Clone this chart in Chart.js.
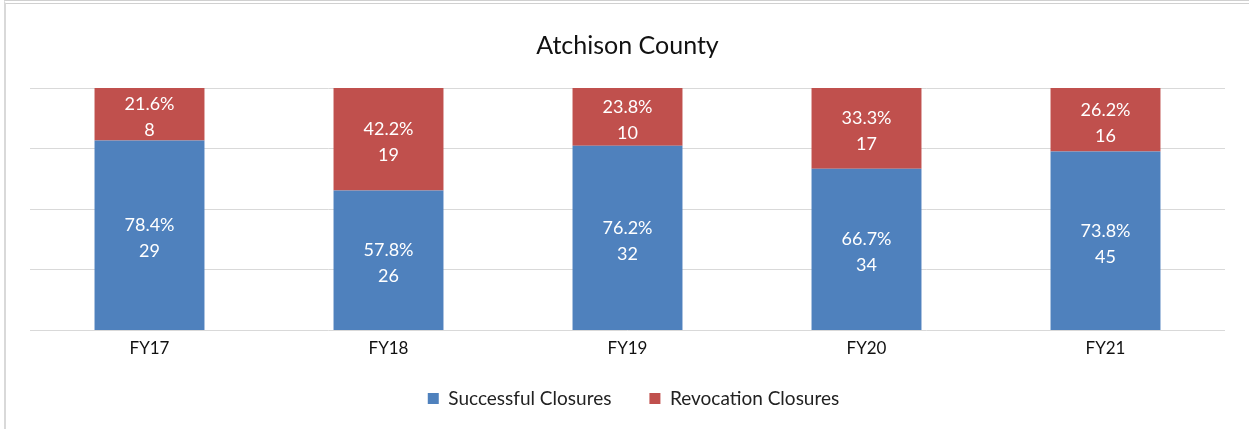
<!DOCTYPE html>
<html>
<head>
<meta charset="utf-8">
<script src="https://cdn.jsdelivr.net/npm/chart.js@4/dist/chart.umd.min.js"></script>
<style>
  html, body { margin: 0; padding: 0; background: #fff; }
  #wrap { position: relative; width: 1249px; height: 429px; }
  #frame { position: absolute; left: 4px; top: 0; width: 1245px; height: 429px;
           border-top: 4px double #d0d0d0; border-left: 2px solid #d9d9d9; box-sizing: border-box; }
  canvas { position: absolute; left: 0; top: 0; }
</style>
</head>
<body>
<div id="wrap">
  <div id="frame"></div>
  <canvas id="chart" width="1249" height="429"></canvas>
</div>
<script>
var years = ['FY17', 'FY18', 'FY19', 'FY20', 'FY21'];
// counts shown under the percentages
var successCount = [29, 26, 32, 34, 45];
var revokeCount = [8, 19, 10, 17, 16];
// share of closures, in percent
var successPct = [78.4, 57.8, 76.2, 66.7, 73.8];
var revokePct = [21.6, 42.2, 23.8, 33.3, 26.2];

var FONT = 'Lato, "Open Sans", sans-serif';

// write "xx.x%" and the count inside each bar piece
var barLabels = {
	id: 'barLabels',
	afterDatasetsDraw: function(chart) {
		var c = chart.ctx;
		c.save();
		c.fillStyle = '#ffffff';
		c.font = '18px ' + FONT;
		c.textAlign = 'center';
		c.textBaseline = 'middle';
		chart.data.datasets.forEach(function(ds, i) {
			var meta = chart.getDatasetMeta(i);
			meta.data.forEach(function(bar, j) {
				var mid = (bar.y + bar.base) / 2 + 3;
				c.fillText(ds.data[j].toFixed(1) + '%', bar.x, mid - 13);
				c.fillText(String(ds.counts[j]), bar.x, mid + 13);
			});
		});
		c.restore();
	}
};

// legend padding is big for the gap between items, pull it back up
var legendShift = {
	id: 'legendShift',
	afterLayout: function(chart) {
		var lg = chart.legend;
		lg.top -= 16;
		lg.bottom -= 16;
		lg.left += 6;
		lg.right += 6;
	}
};

var ctx = document.getElementById('chart').getContext('2d');
var chart = new Chart(ctx, {
	type: 'bar',
	data: {
		labels: years,
		datasets: [{
			label: 'Successful Closures',
			data: successPct,
			counts: successCount,
			backgroundColor: '#4f81bd',
		}, {
			label: 'Revocation Closures',
			data: revokePct,
			counts: revokeCount,
			backgroundColor: '#c0504d',
		}]
	},
	options: {
		responsive: false,
		animation: false,
		layout: { padding: { left: 30, right: 24, top: 18, bottom: -5 } },
		datasets: { bar: { categoryPercentage: 1, barPercentage: 0.46 } },
		scales: {
			x: {
				stacked: true,
				grid: { display: false, drawTicks: false },
				border: { display: false },
				ticks: { color: '#111', font: { family: FONT, size: 17 }, padding: 8 }
			},
			y: {
				stacked: true,
				min: 0,
				max: 100,
				ticks: { display: false, stepSize: 25 },
				grid: { color: '#d9d9d9', drawTicks: false },
				border: { display: false }
			}
		},
		plugins: {
			title: {
				display: true,
				text: 'Atchison County',
				color: '#111',
				font: { family: FONT, size: 25, weight: 'normal' },
				padding: { top: 13, bottom: 27 }
			},
			legend: {
				position: 'bottom',
				labels: {
					color: '#222',
					font: { family: FONT, size: 19 },
					boxWidth: 11,
					boxHeight: 11,
					padding: 38
				}
			},
			tooltip: { enabled: false }
		}
	},
	plugins: [barLabels, legendShift]
});
</script>
</body>
</html>
